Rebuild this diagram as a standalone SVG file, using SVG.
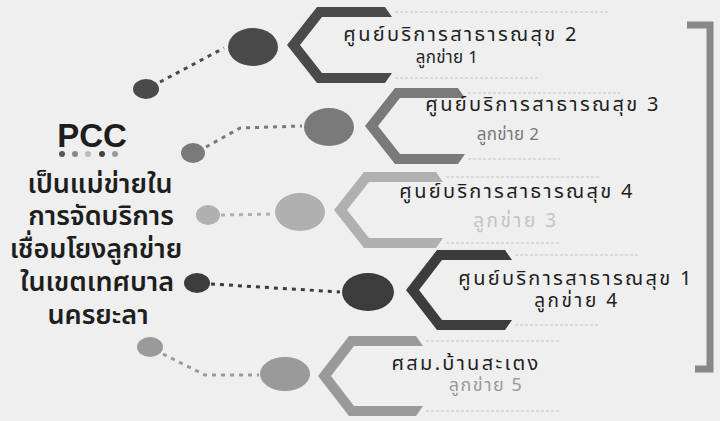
<svg xmlns="http://www.w3.org/2000/svg" width="720" height="421" viewBox="0 0 720 421">
<style>
.th{font-family:"Noto Sans Thai","Noto Sans","Liberation Sans",sans-serif;}
.main{font-size:27px;font-weight:600;fill:#1e1e1e;text-anchor:middle;}
.lbl{font-size:20px;letter-spacing:2.3px;fill:#1e1e1e;text-anchor:middle;}
.sub{font-size:17px;letter-spacing:0.3px;fill:#1e1e1e;text-anchor:middle;}
.conn{fill:none;stroke-width:3;stroke-dasharray:4 5;}
.faint{fill:none;stroke:#d9d9d9;stroke-width:2;stroke-dasharray:3 2;}
</style>
<rect width="720" height="421" fill="#efefef"/>

<g id="title">
<text x="92" y="147" font-family="Liberation Sans, Arial, sans-serif" font-size="33" font-weight="bold" fill="#1e1e1e" text-anchor="middle">PCC</text>
<circle cx="62" cy="154" r="3" fill="#555"/>
<circle cx="75" cy="154" r="3" fill="#888"/>
<circle cx="88" cy="154" r="3" fill="#bbb"/>
<circle cx="102" cy="154" r="3" fill="#444"/>
<circle cx="115" cy="154" r="3" fill="#999"/>
<text class="th main" x="100" y="193">เป็นแม่ข่ายใน</text>
<text class="th main" x="101" y="225">การจัดบริการ</text>
<text class="th main" x="96" y="258">เชื่อมโยงลูกข่าย</text>
<text class="th main" x="97" y="291">ในเขตเทศบาล</text>
<text class="th main" x="98" y="324">นครยะลา</text>
</g>

<g id="connectors">
<path class="conn" stroke="#4a4a4a" d="M160,82 L224,48"/>
<path class="conn" stroke="#7a7a7a" d="M206,147 L240,128 L302,126"/>
<path class="conn" stroke="#b0b0b0" d="M221,215 L274,214"/>
<path class="conn" stroke="#3c3c3c" d="M211,284 L340,292"/>
<path class="conn" stroke="#9a9a9a" d="M163,354 L205,375 L259,375"/>
</g>

<g id="node1">
<ellipse cx="146" cy="89" rx="13" ry="10" fill="#4a4a4a"/>
<ellipse cx="253" cy="47" rx="25" ry="19" fill="#4a4a4a"/>
<polygon fill="#4a4a4a" points="287,45 317,7 385,7 392,17 322,17 300,45 322,73 392,73 385,83 317,83"/>
<path class="faint" d="M395,12 H610 M395,78 H540"/>
<text class="th lbl" x="461" y="41">ศูนย์บริการสาธารณสุข 2</text>
<text class="th sub" x="447" y="63">ลูกข่าย 1</text>
</g>

<g id="node2">
<ellipse cx="193" cy="153" rx="12" ry="10" fill="#7a7a7a"/>
<ellipse cx="329" cy="127" rx="25" ry="19" fill="#7a7a7a"/>
<polygon fill="#7a7a7a" points="365,126 395,88 458,88 465,98 400,98 378,126 400,154 465,154 458,164 395,164"/>
<path class="faint" d="M468,93 H620 M468,159 H560"/>
<text class="th lbl" x="543" y="111">ศูนย์บริการสาธารณสุข 3</text>
<text class="th sub" x="508" y="140" style="fill:#777">ลูกข่าย 2</text>
</g>

<g id="node3">
<ellipse cx="208" cy="215" rx="12" ry="10" fill="#b0b0b0"/>
<ellipse cx="300" cy="212" rx="25" ry="19" fill="#b0b0b0"/>
<polygon fill="#b0b0b0" points="334,210 364,172 436,172 443,182 369,182 347,210 369,238 443,238 436,248 364,248"/>
<path class="faint" d="M446,177 H600 M446,243 H560"/>
<text class="th lbl" x="517" y="198">ศูนย์บริการสาธารณสุข 4</text>
<text class="th sub" x="516" y="227" style="font-size:19px;letter-spacing:2.6px;fill:#c4c4c4">ลูกข่าย 3</text>
</g>

<g id="node4">
<ellipse cx="197" cy="283" rx="13" ry="10" fill="#3c3c3c"/>
<ellipse cx="368" cy="292" rx="26" ry="19" fill="#3c3c3c"/>
<polygon fill="#3c3c3c" points="406,290 437,250 505,250 512,260 442,260 419,290 442,320 512,320 505,330 437,330"/>
<path class="faint" d="M515,255 H640 M515,325 H600"/>
<text class="th lbl" x="576" y="285">ศูนย์บริการสาธารณสุข 1</text>
<text class="th sub" x="577" y="307" style="font-size:19px;letter-spacing:2.6px">ลูกข่าย 4</text>
</g>

<g id="node5">
<ellipse cx="150" cy="347" rx="13" ry="10" fill="#9a9a9a"/>
<ellipse cx="285" cy="374" rx="25" ry="17" fill="#9a9a9a"/>
<polygon fill="#9a9a9a" points="318,376 349,336 416,336 423,346 354,346 331,376 354,406 423,406 416,416 349,416"/>
<path class="faint" d="M426,341 H560 M426,411 H560"/>
<text class="th lbl" x="466" y="370">ศสม.บ้านสะเตง</text>
<text class="th sub" x="486" y="391" style="font-size:18px;letter-spacing:1.5px;fill:#999">ลูกข่าย 5</text>
</g>

<g id="bracket">
<polyline points="687,25 710,25 710,369 695,369" fill="none" stroke="#888" stroke-width="7"/>
</g>
</svg>
